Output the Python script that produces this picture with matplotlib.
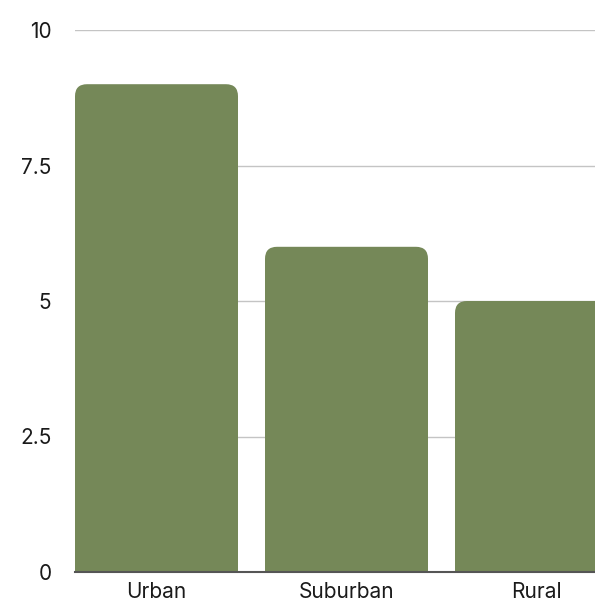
import matplotlib
matplotlib.use("Agg")
import matplotlib.pyplot as plt
from matplotlib.path import Path
from matplotlib.patches import PathPatch

categories = ["Urban", "Suburban", "Rural"]
values = [9, 6, 5]
yticks = [0, 2.5, 5, 7.5, 10]
ytick_labels = ["0", "2.5", "5", "7.5", "10"]

plt.rcParams['font.family'] = ['Inter', 'DejaVu Sans']

W, H = 595, 607
fig = plt.figure(figsize=(W / 100, H / 100), dpi=100)
ax = fig.add_axes([75 / W, 35 / H, 1 - 75 / W, 542 / H])

pitch_px = 190
width = 163 / pitch_px
x = list(range(len(categories)))
bars = ax.bar(x, values, width=width, color="#758858", zorder=2)
ax.set_xlim(-width / 2, -width / 2 + 520 / pitch_px)
ax.set_ylim(0, 10)

ypx = 542 / 10
rx = 12 / pitch_px
ry = 12 / ypx
for b in bars:
    x0, y0 = b.get_x(), b.get_y()
    w, h = b.get_width(), b.get_height()
    b.set_visible(False)
    verts = [
        (x0, y0), (x0, y0 + h - ry), (x0, y0 + h), (x0 + rx, y0 + h),
        (x0 + w - rx, y0 + h), (x0 + w, y0 + h), (x0 + w, y0 + h - ry),
        (x0 + w, y0), (x0, y0),
    ]
    codes = [Path.MOVETO, Path.LINETO, Path.CURVE3, Path.CURVE3,
             Path.LINETO, Path.CURVE3, Path.CURVE3, Path.LINETO, Path.CLOSEPOLY]
    ax.add_patch(PathPatch(Path(verts, codes), facecolor="#758858",
                           edgecolor="none", zorder=2))

ax.set_yticks(yticks)
ax.set_yticklabels(ytick_labels)
ax.set_xticks(x)
ax.set_xticklabels(categories)
ax.tick_params(axis="both", length=0, labelsize=15, colors="#1a1a1a")
ax.tick_params(axis="y", pad=17)
ax.tick_params(axis="x", pad=7)
ax.yaxis.grid(True, color="#c4c4c4", linewidth=1, zorder=1)
ax.set_axisbelow(True)
for s in ["top", "right", "left"]:
    ax.spines[s].set_visible(False)
ax.spines["bottom"].set_color("#555555")
ax.spines["bottom"].set_linewidth(1.5)
ax.spines["bottom"].set_zorder(3)

fig.savefig("out.png", dpi=100)
